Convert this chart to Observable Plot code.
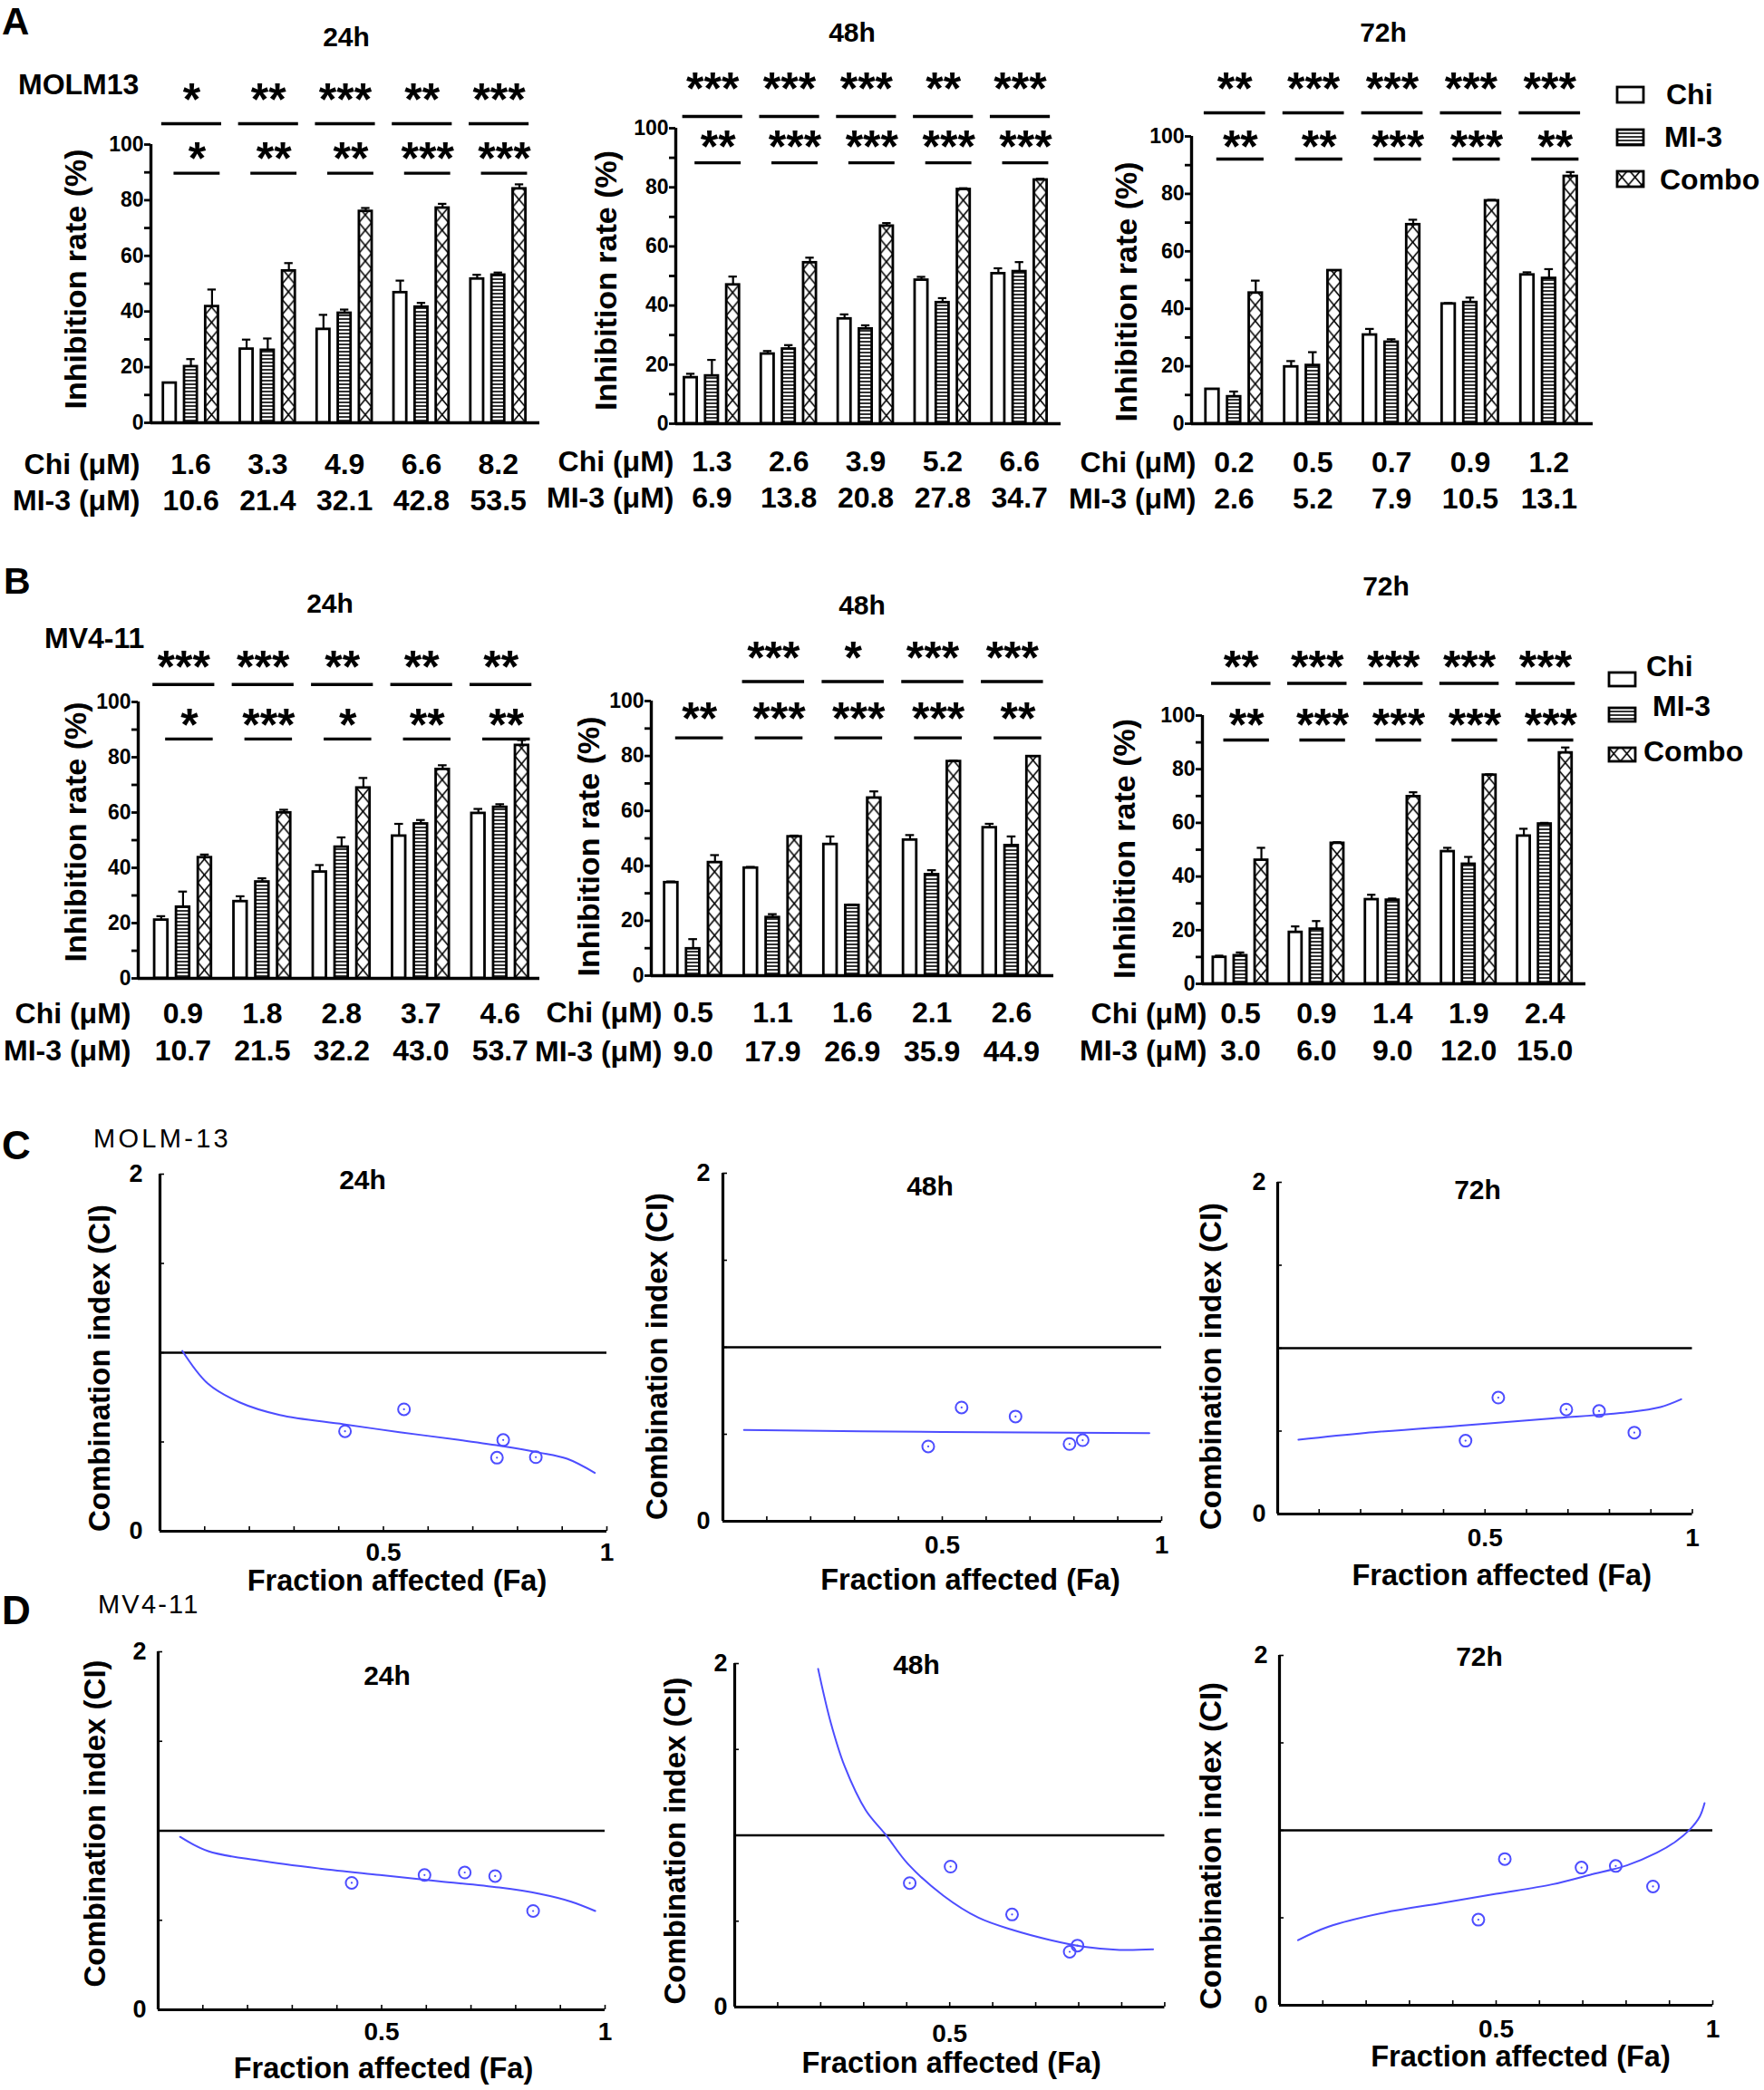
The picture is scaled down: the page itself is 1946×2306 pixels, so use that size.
<!DOCTYPE html>
<html><head><meta charset="utf-8">
<script src="https://cdn.jsdelivr.net/npm/d3@7"></script>
<script src="https://cdn.jsdelivr.net/npm/@observablehq/plot@0.6"></script>
<style>
html,body{margin:0;padding:0;background:#fff;}
#page{position:relative;width:1946px;height:2306px;overflow:hidden;font-family:"Liberation Sans",Arial,Helvetica,sans-serif;color:#000;background:#fff;}
.t{position:absolute;white-space:nowrap;line-height:1;}
</style></head><body><div id="page"></div>
<script>
const FONT = '"Liberation Sans", Arial, Helvetica, sans-serif';
const SERIES = ["Chi", "MI-3", "Combo"];

// ---------- Panel A : MOLM13 ----------
const A24_chiDose = ["1.6","3.3","4.9","6.6","8.2"];
const A24_mi3Dose = ["10.6","21.4","32.1","42.8","53.5"];
const A24_chi   = [14.3, 26.5, 33.6, 46.8, 51.7];
const A24_chiSd = [0, 3.4, 5.2, 4.3, 1.5];
const A24_mi3   = [20.2, 26.1, 39.4, 41.6, 53.1];
const A24_mi3Sd = [2.7, 4.2, 1.3, 1.5, 0.9];
const A24_combo   = [41.8, 54.6, 76.0, 77.2, 84.1];
const A24_comboSd = [6.1, 2.8, 1.2, 1.5, 1.6];
const A24_top = ["*","**","***","**","***"];
const A24_low = ["*","**","**","***","***"];

const A48_chiDose = ["1.3","2.6","3.9","5.2","6.6"];
const A48_mi3Dose = ["6.9","13.8","20.8","27.8","34.7"];
const A48_chi   = [15.6, 23.6, 35.5, 48.6, 50.8];
const A48_chiSd = [1.3, 1.0, 1.5, 1.1, 1.8];
const A48_mi3   = [16.2, 25.3, 32.1, 41.0, 51.5];
const A48_mi3Sd = [5.4, 1.3, 1.2, 1.5, 3.2];
const A48_combo   = [47.0, 54.5, 66.9, 79.3, 82.5];
const A48_comboSd = [2.8, 1.7, 1.0, 0.4, 0.4];
const A48_top = ["***","***","***","**","***"];
const A48_low = ["**","***","***","***","***"];

const A72_chiDose = ["0.2","0.5","0.7","0.9","1.2"];
const A72_mi3Dose = ["2.6","5.2","7.9","10.5","13.1"];
const A72_chi   = [12.0, 19.8, 30.9, 41.7, 51.8];
const A72_chiSd = [0, 2.0, 2.1, 0.3, 0.9];
const A72_mi3   = [9.4, 20.3, 28.4, 42.2, 50.6];
const A72_mi3Sd = [1.8, 4.6, 1.0, 1.7, 3.2];
const A72_combo   = [45.5, 53.3, 69.3, 77.6, 86.1];
const A72_comboSd = [4.3, 0, 1.7, 0.3, 1.5];
const A72_top = ["**","***","***","***","***"];
const A72_low = ["**","**","***","***","**"];

// ---------- Panel B : MV4-11 ----------
const B24_chiDose = ["0.9","1.8","2.8","3.7","4.6"];
const B24_mi3Dose = ["10.7","21.5","32.2","43.0","53.7"];
const B24_chi   = [21.1, 27.8, 38.5, 51.5, 59.7];
const B24_chiSd = [1.4, 1.9, 2.5, 4.4, 1.6];
const B24_mi3   = [25.8, 34.9, 47.5, 55.9, 61.9];
const B24_mi3Sd = [5.6, 1.3, 3.5, 1.4, 1.1];
const B24_combo   = [43.7, 59.9, 68.9, 75.6, 84.3];
const B24_comboSd = [1.1, 1.1, 3.6, 1.5, 1.9];
const B24_top = ["***","***","**","**","**"];
const B24_low = ["*","***","*","**","**"];

const B48_chiDose = ["0.5","1.1","1.6","2.1","2.6"];
const B48_mi3Dose = ["9.0","17.9","26.9","35.9","44.9"];
const B48_chi   = [33.9, 39.2, 47.8, 49.4, 53.9];
const B48_chiSd = [0.4, 0.4, 2.9, 1.8, 1.4];
const B48_mi3   = [9.8, 21.2, 25.6, 36.8, 47.4];
const B48_mi3Sd = [3.5, 1.2, 0.3, 1.6, 3.3];
const B48_combo   = [41.2, 50.6, 64.7, 78.0, 79.8];
const B48_comboSd = [2.7, 0.4, 2.4, 0.3, 0];
const B48_top = ["","***","*","***","***"];
const B48_low = ["**","***","***","***","**"];

const B72_chiDose = ["0.5","0.9","1.4","1.9","2.4"];
const B72_mi3Dose = ["3.0","6.0","9.0","12.0","15.0"];
const B72_chi   = [9.9, 19.2, 31.4, 49.3, 55.1];
const B72_chiSd = [0.6, 2.2, 1.8, 1.4, 2.7];
const B72_mi3   = [10.5, 20.4, 31.2, 44.6, 59.6];
const B72_mi3Sd = [1.2, 3.0, 0.6, 2.7, 0.4];
const B72_combo   = [46.1, 52.4, 69.8, 77.8, 86.1];
const B72_comboSd = [4.6, 0.4, 1.6, 0.3, 2.0];
const B72_top = ["**","***","***","***","***"];
const B72_low = ["**","***","***","***","***"];

// ---------- Panel C / D : combination index ----------
const C24_curveFa = [0.05, 0.107, 0.178, 0.268, 0.411, 0.536, 0.67, 0.768, 0.848, 0.911, 0.973];
const C24_curveCi = [1.01, 0.827, 0.722, 0.651, 0.599, 0.555, 0.511, 0.476, 0.441, 0.406, 0.327];
const C24_ptFa = [0.414, 0.546, 0.768, 0.754, 0.841];
const C24_ptCi = [0.560, 0.683, 0.511, 0.412, 0.415];

const C48_curveFa = [0.048, 0.5, 0.972];
const C48_curveCi = [0.525, 0.513, 0.507];
const C48_ptFa = [0.468, 0.544, 0.667, 0.790, 0.820];
const C48_ptCi = [0.430, 0.654, 0.602, 0.444, 0.466];

const C72_curveFa = [0.05, 0.212, 0.455, 0.662, 0.842, 0.923, 0.973];
const C72_curveCi = [0.448, 0.489, 0.536, 0.576, 0.613, 0.645, 0.692];
const C72_ptFa = [0.453, 0.532, 0.696, 0.775, 0.860];
const C72_ptCi = [0.442, 0.702, 0.630, 0.621, 0.491];

const D24_curveFa = [0.049, 0.112, 0.228, 0.362, 0.496, 0.629, 0.763, 0.853, 0.924, 0.978];
const D24_curveCi = [0.966, 0.886, 0.833, 0.789, 0.753, 0.718, 0.683, 0.648, 0.604, 0.552];
const D24_ptFa = [0.433, 0.596, 0.686, 0.754, 0.839];
const D24_ptCi = [0.709, 0.753, 0.767, 0.747, 0.552];

const D48_curveFa = [0.194, 0.223, 0.256, 0.305, 0.35, 0.403, 0.485, 0.567, 0.649, 0.731, 0.813, 0.895, 0.973];
const D48_curveCi = [1.969, 1.66, 1.40, 1.145, 1.007, 0.833, 0.649, 0.520, 0.447, 0.392, 0.351, 0.333, 0.336];
const D48_ptFa = [0.407, 0.502, 0.645, 0.779, 0.797];
const D48_ptCi = [0.722, 0.818, 0.539, 0.322, 0.358];

const D72_curveFa = [0.043, 0.112, 0.241, 0.371, 0.5, 0.629, 0.716, 0.802, 0.871, 0.914, 0.948, 0.97, 0.981];
const D72_curveCi = [0.372, 0.448, 0.529, 0.583, 0.637, 0.691, 0.745, 0.8, 0.872, 0.935, 1.007, 1.079, 1.155];
const D72_ptFa = [0.459, 0.52, 0.697, 0.776, 0.862];
const D72_ptCi = [0.489, 0.836, 0.787, 0.796, 0.679];

// ================= rendering =================
const page = document.getElementById("page");
const NS = "http://www.w3.org/2000/svg";
function el(name, attrs) { const e = document.createElementNS(NS, name); for (const k in attrs) e.setAttribute(k, attrs[k]); return e; }
const defsSvg = el("svg", {width: 0, height: 0, style: "position:absolute;left:0;top:0"});
const defs = el("defs", {});
defsSvg.appendChild(defs); page.appendChild(defsSvg);

function addPattern(id, x, y, w, h, type) {
  const p = el("pattern", {id, x, y, width: w, height: h, patternUnits: "userSpaceOnUse"});
  p.appendChild(el("rect", {width: w, height: h, fill: "white"}));
  if (type === "x") {
    p.appendChild(el("line", {x1: 0, y1: 0, x2: w, y2: h, stroke: "black", "stroke-width": 1.6}));
    p.appendChild(el("line", {x1: w, y1: 0, x2: 0, y2: h, stroke: "black", "stroke-width": 1.6}));
  } else {
    p.appendChild(el("line", {x1: 0, y1: h / 2, x2: w, y2: h / 2, stroke: "black", "stroke-width": 1.6}));
  }
  defs.appendChild(p);
}

function txt(s, x, y, size, o = {}) {
  const d = document.createElement("div");
  d.className = "t";
  d.textContent = s;
  Object.assign(d.style, {left: x + "px", top: (y - 0.49 * size) + "px", fontSize: size + "px", fontWeight: o.normal ? "normal" : "bold"});
  if (o.ls) d.style.letterSpacing = o.ls + "px";
  if (o.center) d.style.transform = "translateX(-50%)";
  page.appendChild(d);
}

function place(svg, left, top) {
  svg.style.position = "absolute";
  svg.style.left = left + "px";
  svg.style.top = top + "px";
  svg.style.overflow = "visible";
  svg.style.background = "transparent";
  svg.style.maxWidth = "none";
  page.appendChild(svg);
}

const OFF = 0.275, HW = 1 / 12, CAP = 0.055;
const TICKFS = 32;

function barPanel(P) {
  const n = P.chiDose.length;
  const idx = d3.range(n);
  const vals = [P.chi, P.mi3, P.combo], sds = [P.chiSd, P.mi3Sd, P.comboSd];
  const rows = [];
  vals.forEach((arr, k) => arr.forEach((v, i) => rows.push({k, i, v, sd: sds[k][i], xc: i + (k - 1) * OFF})));
  const fills = ["white", `url(#st-${P.key})`, `url(#xh-${P.key})`];
  const err = rows.filter(d => d.sd > 0);
  const top = idx.filter(i => P.topStars[i]).map(i => ({i, s: P.topStars[i]}));
  const low = idx.filter(i => P.lowStars[i]).map(i => ({i, s: P.lowStars[i]}));
  const plot = Plot.plot({
    width: P.width, height: P.height,
    marginLeft: P.ml, marginRight: P.mr, marginTop: P.mt, marginBottom: P.mb,
    style: {fontFamily: FONT, background: "transparent", overflow: "visible"},
    x: {domain: [-P.a, n - 1 + P.b], label: null},
    y: {domain: [0, 100], label: null},
    marks: [
      ...[0, 1, 2].map(k => Plot.rectY(rows.filter(d => d.k === k), {
        x1: d => d.xc - HW, x2: d => d.xc + HW, y1: 0, y2: "v",
        fill: fills[k], stroke: "black", strokeWidth: 2.8
      })),
      Plot.ruleX(err, {x: "xc", y1: "v", y2: d => d.v + d.sd, strokeWidth: 2.2}),
      Plot.ruleY(err, {y: d => d.v + d.sd, x1: d => d.xc - CAP, x2: d => d.xc + CAP, strokeWidth: 2.2}),
      Plot.ruleY([0], {strokeWidth: 3.4}),
      Plot.ruleX([-P.a], {y1: 0, y2: 100, strokeWidth: 3.4}),
      Plot.axisY({ticks: d3.range(0, 101, 10), tickFormat: d => d % 20 === 0 ? String(d) : "", label: null,
        tickSize: 7, tickPadding: 1, strokeWidth: 2.8, fontSize: 23, fontWeight: "bold"}),
      Plot.axisX({ticks: idx, tickFormat: i => P.chiDose[i] + "\n" + P.mi3Dose[i], label: null,
        tickSize: 0, tickPadding: P.tp, fontSize: TICKFS, fontWeight: "bold", lineHeight: P.lh}),
      Plot.text(["Chi (μM)\nMI-3 (μM)"], {frameAnchor: "bottom-left", textAnchor: "end", lineAnchor: "top",
        dx: P.ldx, dy: P.tp, fontSize: TICKFS, fontWeight: "bold", lineHeight: P.lh}),
      Plot.text(["Inhibition rate (%)"], {frameAnchor: "left", textAnchor: "middle", lineAnchor: "middle", rotate: -90,
        dx: P.ydx, dy: P.ydy, fontSize: 34, fontWeight: "bold"}),
      Plot.ruleY(top, {y: P.lv[1], x1: d => d.i - 0.38, x2: d => d.i + 0.40, strokeWidth: 3.4}),
      Plot.ruleY(low, {y: P.lv[3], x1: d => d.i - 0.22, x2: d => d.i + 0.38, strokeWidth: 3.4}),
      Plot.text(top, {x: d => d.i + 0.01, y: P.lv[0], text: "s", fontSize: 50, fontWeight: "bold", dy: 12.5}),
      Plot.text(low, {x: d => d.i + 0.08, y: P.lv[2], text: "s", fontSize: 50, fontWeight: "bold", dy: 12.5})
    ]
  });
  const xs = plot.scale("x"), ys = plot.scale("y");
  const W = xs.apply(2 * HW) - xs.apply(0);
  const py0 = ys.apply(0);
  addPattern(`xh-${P.key}`, xs.apply(OFF - HW), py0, W, W * 1.2, "x");
  addPattern(`st-${P.key}`, 0, py0, 10, 4, "h");
  place(plot, P.left, P.y);
}

const BLUE = "#4d4dff";
function ciPanel(P) {
  const curve = P.curveFa.map((x, i) => ({x, y: P.curveCi[i]}));
  const pts = P.ptFa.map((x, i) => ({x, y: P.ptCi[i]}));
  const plot = Plot.plot({
    width: P.width, height: P.height,
    marginLeft: P.ml, marginRight: P.mr, marginTop: P.mt, marginBottom: P.mb,
    style: {fontFamily: FONT, background: "transparent", overflow: "visible"},
    x: {domain: [0, 1], label: null},
    y: {domain: [0, 2], label: null},
    marks: [
      Plot.ruleY([1], {strokeWidth: 2.5}),
      Plot.line(curve, {x: "x", y: "y", stroke: BLUE, strokeWidth: 2, curve: "catmull-rom"}),
      Plot.dot(pts, {x: "x", y: "y", r: 6.5, stroke: BLUE, strokeWidth: 2, fill: "none"}),
      Plot.dot(pts, {x: "x", y: "y", r: 1.1, fill: BLUE}),
      Plot.ruleY([0], {strokeWidth: 3.2}),
      Plot.ruleX([0], {y1: 0, y2: 2, strokeWidth: 3.2}),
      Plot.axisX({ticks: d3.range(1, 11).map(d => d / 10), tickFormat: () => "", label: null, tickSize: 5, dy: -5, strokeWidth: 1.6}),
      Plot.axisY({ticks: [0.5, 1, 1.5, 2], tickFormat: () => "", label: null, tickSize: 5, dx: 5, strokeWidth: 1.6}),
      Plot.axisX({ticks: P.xLabels, tickFormat: d => String(d), label: null, tickSize: 0, tickPadding: P.xtp, fontSize: 28, fontWeight: "bold"}),
      Plot.axisY({ticks: [0, 2], tickFormat: d => String(d), label: null, tickSize: 0, tickPadding: P.ytp, fontSize: 27, fontWeight: "bold"}),
      Plot.text(["Fraction affected (Fa)"], {frameAnchor: "bottom", textAnchor: "middle", lineAnchor: "middle",
        dx: P.xl[0], dy: P.xl[1], fontSize: 32.5, fontWeight: "bold"}),
      Plot.text(["Combination index (CI)"], {frameAnchor: "left", textAnchor: "middle", lineAnchor: "middle", rotate: -90,
        dx: P.yl[0], dy: P.yl[1], fontSize: 33, fontWeight: "bold"})
    ]
  });
  place(plot, P.left, P.y);
}

// ---- bar panels (layout only; values come from the arrays above) ----
const barPanels = [
  {key: "A24", chiDose: A24_chiDose, mi3Dose: A24_mi3Dose, chi: A24_chi, chiSd: A24_chiSd, mi3: A24_mi3, mi3Sd: A24_mi3Sd, combo: A24_combo, comboSd: A24_comboSd, topStars: A24_top, lowStars: A24_low,
   left: 0, y: 40, width: 600, height: 546, ml: 166, mr: 5, mt: 119, mb: 120, a: 0.52, b: 0.54,
   tp: 28, lh: 1.26, ldx: -12, ydx: -82, ydy: -5, lv: [119.9, 107.5, 98.6, 89.7]},
  {key: "A48", chiDose: A48_chiDose, mi3Dose: A48_mi3Dose, chi: A48_chi, chiSd: A48_chiSd, mi3: A48_mi3, mi3Sd: A48_mi3Sd, combo: A48_combo, comboSd: A48_comboSd, topStars: A48_top, lowStars: A48_low,
   left: 600, y: 40, width: 575, height: 547, ml: 145, mr: 5, mt: 101, mb: 120, a: 0.47, b: 0.54,
   tp: 23.5, lh: 1.26, ldx: -2, ydx: -76, ydy: 5, lv: [117, 104, 97.3, 88.3]},
  {key: "A72", chiDose: A72_chiDose, mi3Dose: A72_mi3Dose, chi: A72_chi, chiSd: A72_chiSd, mi3: A72_mi3, mi3Sd: A72_mi3Sd, combo: A72_combo, comboSd: A72_comboSd, topStars: A72_top, lowStars: A72_low,
   left: 1175, y: 40, width: 585, height: 547, ml: 139, mr: 3, mt: 110, mb: 120, a: 0.54, b: 0.56,
   tp: 25, lh: 1.25, ldx: 5, ydx: -71, ydy: 13, lv: [120.3, 108.2, 100, 92.1]},
  {key: "B24", chiDose: B24_chiDose, mi3Dose: B24_mi3Dose, chi: B24_chi, chiSd: B24_chiSd, mi3: B24_mi3, mi3Sd: B24_mi3Sd, combo: B24_combo, comboSd: B24_comboSd, topStars: B24_top, lowStars: B24_low,
   left: 0, y: 690, width: 600, height: 509, ml: 152, mr: 5, mt: 84, mb: 120, a: 0.565, b: 0.5,
   tp: 20.5, lh: 1.28, ldx: -8, ydx: -68, ydy: -9, lv: [116.5, 106.3, 95.4, 86.6]},
  {key: "B48", chiDose: B48_chiDose, mi3Dose: B48_mi3Dose, chi: B48_chi, chiSd: B48_chiSd, mi3: B48_mi3, mi3Sd: B48_mi3Sd, combo: B48_combo, comboSd: B48_comboSd, topStars: B48_top, lowStars: B48_low,
   left: 590, y: 690, width: 575, height: 506, ml: 128, mr: 3, mt: 83, mb: 120, a: 0.525, b: 0.53,
   tp: 21.5, lh: 1.33, ldx: 12, ydx: -68, ydy: 9, lv: [119.4, 107.1, 97.5, 86.6]},
  {key: "B72", chiDose: B72_chiDose, mi3Dose: B72_mi3Dose, chi: B72_chi, chiSd: B72_chiSd, mi3: B72_mi3, mi3Sd: B72_mi3Sd, combo: B72_combo, comboSd: B72_comboSd, topStars: B72_top, lowStars: B72_low,
   left: 1175, y: 690, width: 585, height: 515, ml: 151, mr: 11, mt: 99, mb: 120, a: 0.5, b: 0.54,
   tp: 14.5, lh: 1.28, ldx: 5, ydx: -85, ydy: -1, lv: [122.1, 112, 100.4, 90.9]}
];
barPanels.forEach(p => barPanel(p));

// ---- CI panels ----
const ciPanels = [
  {curveFa: C24_curveFa, curveCi: C24_curveCi, ptFa: C24_ptFa, ptCi: C24_ptCi, left: 0, y: 1280, width: 690, height: 489, ml: 176, mr: 21, mt: 15, mb: 80,
   xLabels: [0.5, 1], xtp: 12.5, ytp: 19, xl: [15, 55.5], yl: [-66, 17]},
  {curveFa: C48_curveFa, curveCi: C48_curveCi, ptFa: C48_ptFa, ptCi: C48_ptCi, left: 690, y: 1280, width: 610, height: 484, ml: 107, mr: 19, mt: 14, mb: 86,
   xLabels: [0.5, 1], xtp: 15.5, ytp: 14, xl: [31, 65], yl: [-72, 10]},
  {curveFa: C72_curveFa, curveCi: C72_curveCi, ptFa: C72_ptFa, ptCi: C72_ptCi, left: 1300, y: 1280, width: 640, height: 476, ml: 109, mr: 73.5, mt: 24, mb: 86,
   xLabels: [0.5, 1], xtp: 15.5, ytp: 13, xl: [18.5, 68.5], yl: [-73, 20]},
  {curveFa: D24_curveFa, curveCi: D24_curveCi, ptFa: D24_ptFa, ptCi: D24_ptCi, left: 0, y: 1800, width: 690, height: 502, ml: 174, mr: 23, mt: 22, mb: 85,
   xLabels: [0.5, 1], xtp: 14, ytp: 13, xl: [2, 65.5], yl: [-69, -8]},
  {curveFa: D48_curveFa, curveCi: D48_curveCi, ptFa: D48_ptFa, ptCi: D48_ptCi, left: 690, y: 1800, width: 610, height: 499, ml: 120, mr: 15.6, mt: 35, mb: 85,
   xLabels: [0.5], xtp: 19, ytp: 8, xl: [2, 62.5], yl: [-65, 6]},
  {curveFa: D72_curveFa, curveCi: D72_curveCi, ptFa: D72_ptFa, ptCi: D72_ptCi, left: 1300, y: 1800, width: 640, height: 497, ml: 111, mr: 51, mt: 26, mb: 85,
   xLabels: [0.5, 1], xtp: 15.5, ytp: 13, xl: [27, 57.5], yl: [-75, 17]}
];
ciPanels.forEach(p => ciPanel(p));

// ---- panel letters, cell lines, titles ----
txt("A", 2, 24, 42);
txt("B", 4, 641, 41);
txt("C", 2, 1264, 44);
txt("D", 2, 1777, 44);
txt("MOLM13", 20, 93, 32);
txt("MV4-11", 49, 704, 32);
txt("MOLM-13", 103, 1256, 29, {normal: true, ls: 3.3});
txt("MV4-11", 108, 1770, 29, {normal: true, ls: 2.2});

const barTitles = [["24h", 382, 41], ["48h", 940, 36], ["72h", 1526, 36], ["24h", 364, 666], ["48h", 951, 668], ["72h", 1529, 647]];
barTitles.forEach(([s, x, y]) => txt(s, x, y, 30, {center: true}));
const ciTitles = [["24h", 400, 1302], ["48h", 1026, 1309], ["72h", 1630, 1313], ["24h", 427, 1849], ["48h", 1011, 1837], ["72h", 1632, 1828]];
ciTitles.forEach(([s, x, y]) => txt(s, x, y, 30, {center: true}));

// ---- legends ----
addPattern("lg-st", 0, 0, 10, 4, "h");
addPattern("lg-xh", 0, 0, 14.5, 17, "x");
const legFill = ["white", "url(#lg-st)", "url(#lg-xh)"];
function legend(boxX, boxW, boxH, boxY, textX, textY) {
  SERIES.forEach((name, k) => {
    const s = el("svg", {width: boxW + 4, height: boxH + 4});
    s.style.position = "absolute";
    s.style.left = (boxX - 2) + "px";
    s.style.top = (boxY[k] - boxH / 2 - 2) + "px";
    s.appendChild(el("rect", {x: 2, y: 2, width: boxW, height: boxH, fill: legFill[k], stroke: "black", "stroke-width": 2.8}));
    page.appendChild(s);
    txt(name, textX[k], textY[k], 32);
  });
}
legend(1784, 29, 17, [104, 151, 197], [1838, 1836, 1831], [104, 151, 198]);
legend(1775, 29, 15, [749, 788, 832], [1816, 1823, 1813], [735, 779, 829]);
</script>
</body></html>
